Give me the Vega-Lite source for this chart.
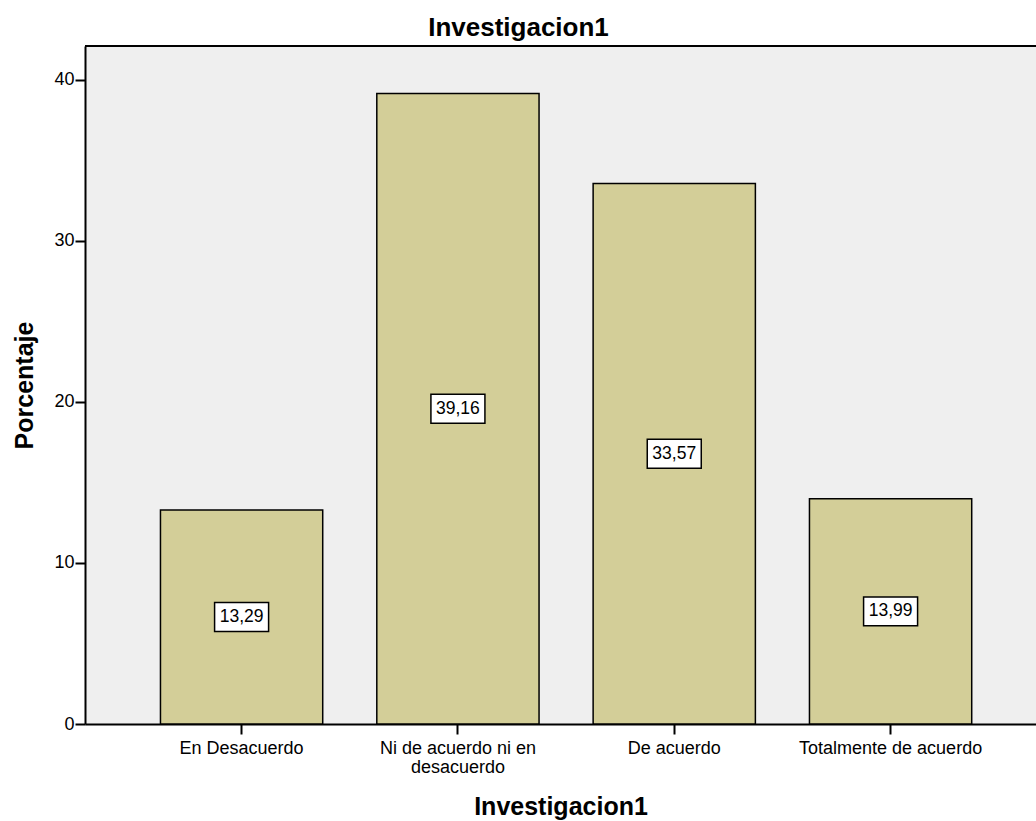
{
  "$schema": "https://vega.github.io/schema/vega-lite/v6.json",
  "width": 951,
  "height": 678,
  "autosize": {"type": "none"},
  "padding": {"left": 85, "top": 46, "right": 0, "bottom": 97},
  "background": "white",
  "title": {
    "text": "Investigacion1",
    "font": "Liberation Sans",
    "fontSize": 26,
    "fontWeight": "bold",
    "color": "black",
    "anchor": "middle",
    "dx": -42,
    "offset": 4
  },
  "config": {
    "view": {"fill": "#efefef", "stroke": null},
    "font": "Liberation Sans"
  },
  "data": {
    "values": [
      {"cat": "En Desacuerdo", "pct": 13.29, "lab": "13,29"},
      {"cat": "Ni de acuerdo ni en desacuerdo", "pct": 39.16, "lab": "39,16"},
      {"cat": "De acuerdo", "pct": 33.57, "lab": "33,57"},
      {"cat": "Totalmente de acuerdo", "pct": 13.99, "lab": "13,99"}
    ]
  },
  "encoding": {
    "x": {
      "field": "cat",
      "type": "nominal",
      "sort": null,
      "scale": {"paddingInner": 0.25, "paddingOuter": 0.323, "align": 0.54},
      "axis": {
        "title": "Investigacion1",
        "titleFont": "Liberation Sans",
        "titleFontSize": 25,
        "titleFontWeight": "bold",
        "titleColor": "black",
        "titlePadding": 18,
        "labelAngle": 0,
        "labelFont": "Liberation Sans",
        "labelFontSize": 18,
        "labelColor": "black",
        "labelPadding": 5,
        "labelLimit": 400,
        "labelOverlap": false,
        "labelExpr": "datum.label == 'Ni de acuerdo ni en desacuerdo' ? ['Ni de acuerdo ni en', 'desacuerdo'] : datum.label",
        "labelLineHeight": 19,
        "tickColor": "black",
        "tickSize": 10,
        "tickWidth": 2,
        "domainColor": "black",
        "domainWidth": 2
      }
    }
  },
  "layer": [
    {
      "mark": {"type": "rule", "color": "black", "strokeWidth": 2},
      "encoding": {"x": null, "y": {"datum": 42.11, "type": "quantitative"}}
    },
    {
      "mark": {"type": "bar", "fill": "#d3ce98", "stroke": "black", "strokeWidth": 1.5},
      "encoding": {
        "y": {
          "field": "pct",
          "type": "quantitative",
          "scale": {"domain": [0, 42.11], "nice": false, "zero": true},
          "axis": {
            "title": "Porcentaje",
            "titleFont": "Liberation Sans",
            "titleFontSize": 25,
            "titleFontWeight": "bold",
            "titleColor": "black",
            "titlePadding": 16,
            "values": [0, 10, 20, 30, 40],
            "labelFont": "Liberation Sans",
            "labelFontSize": 18,
            "labelColor": "black",
            "labelPadding": 1,
            "tickColor": "black",
            "tickSize": 10,
            "tickWidth": 2,
            "grid": false,
            "domainColor": "black",
            "domainWidth": 2
          }
        }
      }
    },
    {
      "transform": [{"calculate": "datum.pct / 2", "as": "mid"}],
      "mark": {
        "type": "point",
        "shape": "M-1,-0.537H1V0.537H-1Z",
        "size": 2916,
        "filled": true,
        "fill": "white",
        "stroke": "black",
        "strokeWidth": 1.5,
        "opacity": 1
      },
      "encoding": {"y": {"field": "mid", "type": "quantitative"}}
    },
    {
      "transform": [{"calculate": "datum.pct / 2", "as": "mid"}],
      "mark": {"type": "text", "font": "Liberation Sans", "fontSize": 17.5, "color": "black", "baseline": "middle"},
      "encoding": {
        "y": {"field": "mid", "type": "quantitative"},
        "text": {"field": "lab"}
      }
    }
  ]
}
